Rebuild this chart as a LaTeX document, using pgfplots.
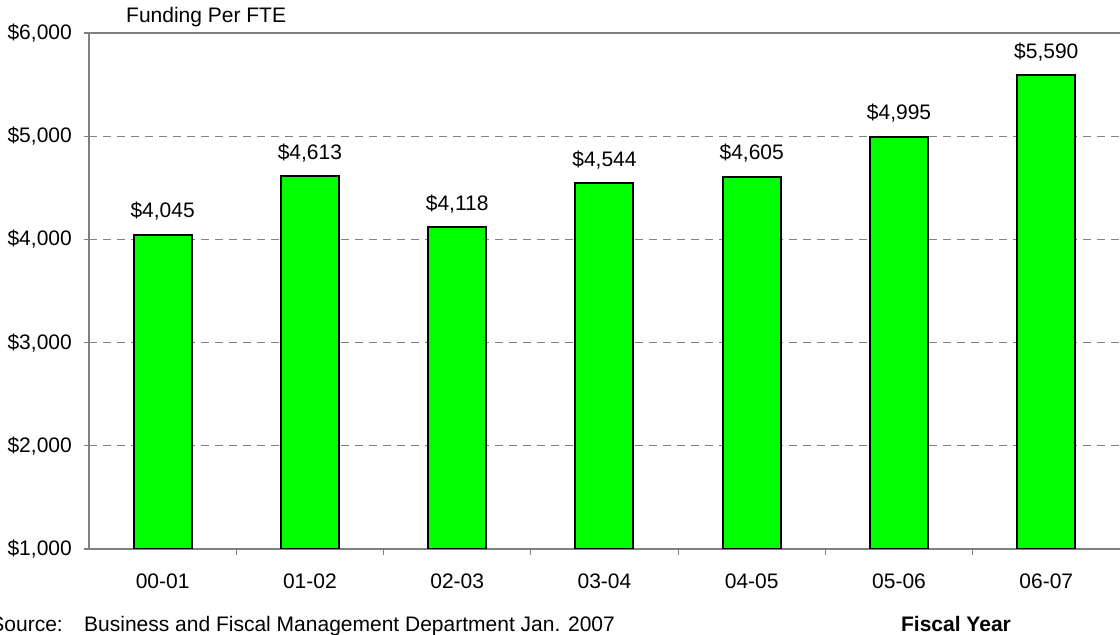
\documentclass[border=0pt]{standalone}
\usepackage{fontspec}
\setmainfont{Liberation Sans}
\usepackage{pgfplots}
\pgfplotsset{compat=1.18}
\definecolor{barg}{HTML}{00FF00}
\definecolor{axg}{HTML}{808080}
\begin{document}
\fontsize{21bp}{25bp}\selectfont
\begin{tikzpicture}[x=1bp,y=1bp]
\begin{axis}[
  at={(89bp,86bp)}, anchor=south west,
  scale only axis, width=1031bp, height=516bp,
  xmin=-0.5, xmax=6.5, ymin=1000, ymax=6000,
  axis x line*=bottom, axis y line*=left,
  axis line style={-, draw=axg, line width=1.5bp},
  tick align=outside,
  ytick={1000,2000,3000,4000,5000,6000},
  yticklabels={{\$1,000},{\$2,000},{\$3,000},{\$4,000},{\$5,000},{\$6,000}},
  major tick length=5bp,
  minor tick length=6bp,
  xtick={0,1,2,3,4,5,6},
  xticklabels={00-01,01-02,02-03,03-04,04-05,05-06,06-07},
  minor xtick={0.5,1.5,2.5,3.5,4.5,5.5},
  major x tick style={draw=none},
  minor x tick style={draw=axg, line width=1.2bp},
  y tick style={draw=axg, line width=1.2bp},
  ymajorgrids,
  major grid style={draw=axg, line width=0.9bp, dash pattern=on 8bp off 6bp},
  ticklabel style={font=\fontsize{21bp}{25bp}\selectfont},
  xticklabel style={yshift=-13bp},
  yticklabel style={xshift=-5bp},
  ybar, bar width=0.394,
  /pgf/number format/assume math mode=true,
  point meta=y,
  nodes near coords={\$\pgfmathprintnumber[fixed,precision=0,1000 sep={,}]{\pgfplotspointmeta}},
  every node near coord/.append style={anchor=base, yshift=17bp, inner sep=0pt, font=\fontsize{21bp}{25bp}\selectfont, text=black},
]
\addplot[fill=barg, draw=black, line width=2bp] coordinates {
  (0,4045) (1,4613) (2,4118) (3,4544) (4,4605) (5,4995) (6,5590)
};
\end{axis}
\draw[axg, line width=1.5bp] (89bp,602bp) -- (1130bp,602bp);
\node[anchor=base west, inner sep=0pt] at (126bp,612bp) {Funding Per FTE};
\node[anchor=base east, inner sep=0pt] at (63bp,4bp) {Source:};
\node[anchor=base west, inner sep=0pt] at (84bp,4bp) {Business and Fiscal Management Department Jan. 2007};
\node[anchor=base, inner sep=0pt] at (956bp,4bp) {\bfseries Fiscal Year};
\pgfresetboundingbox
\path[use as bounding box] (0,0) rectangle (1120bp,635bp);
\end{tikzpicture}
\end{document}
